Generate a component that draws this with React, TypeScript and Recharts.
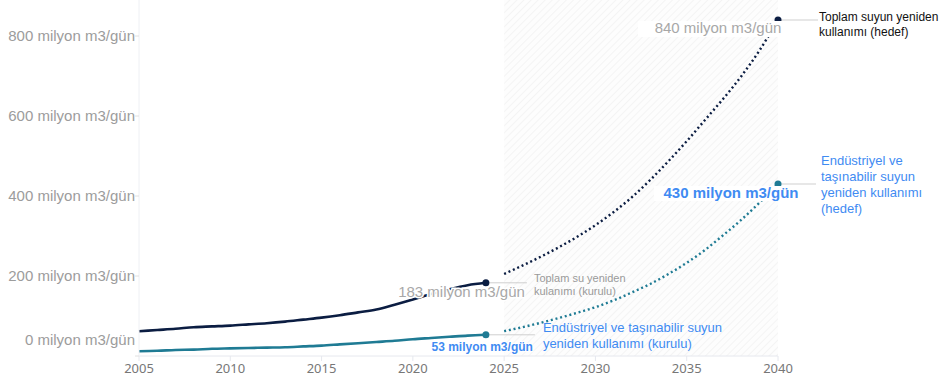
import React from "react";
import { LineChart, Line, XAxis, YAxis, ReferenceArea } from "recharts";

const histYears = [2005, 2006, 2007, 2008, 2009, 2010, 2011, 2012, 2013, 2014, 2015, 2016, 2017, 2018, 2019, 2020, 2021, 2022, 2023, 2024];
const totalInstalled = [62, 65, 68, 72, 74, 76, 79, 82, 86, 91, 96, 102, 109, 116, 128, 141, 155, 167, 177, 183];
const industrialInstalled = [12, 13, 15, 16, 18, 19, 20, 21, 22, 24, 26, 29, 32, 35, 38, 42, 45, 48, 51, 53];

const projYears = [2025, 2026, 2027, 2028, 2029, 2030, 2031, 2032, 2033, 2034, 2035, 2036, 2037, 2038, 2039, 2040];
const totalTarget = [205, 226, 248, 272, 298, 327, 360, 397, 440, 487, 537, 590, 643, 700, 765, 840];
const industrialTarget = [62, 72, 83, 95, 108, 122, 139, 159, 180, 205, 233, 265, 302, 341, 384, 430];

const xTicks = [2005, 2010, 2015, 2020, 2025, 2030, 2035, 2040];
const yTicks = [0, 200, 400, 600, 800];
const unit = "milyon m3/gün";

const data = [
  ...histYears.map((year, i) => ({ year, totalInstalled: totalInstalled[i], industrialInstalled: industrialInstalled[i] })),
  ...projYears.map((year, i) => ({ year, totalTarget: totalTarget[i], industrialTarget: industrialTarget[i] })),
];

const NAVY = "#0b1d42";
const TEAL = "#1f7b94";
const BLUE = "#3f8bf2";
const LEADER = "#cfcfcf";
const SANS = "'Liberation Sans', Arial, sans-serif";

const lastHist = histYears[histYears.length - 1];
const lastProj = projYears[projYears.length - 1];

const YTick = (props: any) => {
  const { x, y, payload } = props;
  const dy = payload.value === 0 ? -16 : 0;
  return (
    <text x={x + 2} y={y + dy} dy={5} textAnchor="end" fontSize={15} fontFamily={SANS} fill="#9c9c9c" style={{ fontSize: 15 }}>
      {`${payload.value} ${unit}`}
    </text>
  );
};

const XTick = (props: any) => {
  const { x, y, payload } = props;
  return (
    <text x={x} y={y} dy={10} textAnchor="middle" fontSize={13} fontFamily="'Noto Sans', sans-serif" fill="#777">
      {payload.value}
    </text>
  );
};

const TotalInstalledDot = (props: any) => {
  const { cx, cy, payload, index } = props;
  if (!payload || payload.year !== lastHist || cx == null || cy == null) return <g key={`ti${index}`} />;
  return (
    <g key={`ti${index}`}>
      <line x1={cx} y1={cy} x2={cx + 41} y2={cy} stroke={LEADER} strokeWidth={1} />
      <text x={cx + 39} y={cy + 14} textAnchor="end" fontSize={15} fontFamily={SANS} fill="#a8a8a8" stroke="#fff" strokeWidth={3} paintOrder="stroke">
        {`${totalInstalled[totalInstalled.length - 1]} ${unit}`}
      </text>
      <circle cx={cx} cy={cy} r={3.5} fill={NAVY} />
      <text fontSize={11} fontFamily={SANS} fill="#9a9a9a">
        <tspan x={cx + 48} y={cy - 1}>Toplam su yeniden</tspan>
        <tspan x={cx + 48} y={cy + 12}>kulanımı (kurulu)</tspan>
      </text>
    </g>
  );
};

const IndustrialInstalledDot = (props: any) => {
  const { cx, cy, payload, index } = props;
  if (!payload || payload.year !== lastHist || cx == null || cy == null) return <g key={`ii${index}`} />;
  return (
    <g key={`ii${index}`}>
      <line x1={cx} y1={cy} x2={cx + 49} y2={cy} stroke={LEADER} strokeWidth={1} />
      <text x={cx + 47} y={cy + 16} textAnchor="end" fontSize={12} fontWeight="bold" fontFamily={SANS} fill={BLUE} stroke="#fff" strokeWidth={2} paintOrder="stroke">
        {`${industrialInstalled[industrialInstalled.length - 1]} ${unit}`}
      </text>
      <circle cx={cx} cy={cy} r={3.5} fill={TEAL} />
      <text fontSize={13} fontFamily={SANS} fill={BLUE}>
        <tspan x={cx + 57} y={cy - 3}>Endüstriyel ve taşınabilir suyun</tspan>
        <tspan x={cx + 57} y={cy + 13}>yeniden kullanımı (kurulu)</tspan>
      </text>
    </g>
  );
};

const TotalTargetDot = (props: any) => {
  const { cx, cy, payload, index } = props;
  if (!payload || payload.year !== lastProj || cx == null || cy == null) return <g key={`tt${index}`} />;
  return (
    <g key={`tt${index}`}>
      <line x1={cx} y1={cy} x2={cx + 40} y2={cy} stroke={LEADER} strokeWidth={1} />
      <circle cx={cx} cy={cy} r={3.5} fill={NAVY} />
      <rect x={cx - 140} y={cy + 1} width={161} height={16} fill="#fff" />
      <text x={cx - 60} y={cy + 13} textAnchor="middle" fontSize={15} fontFamily={SANS} fill="#a8a8a8">
        {`${totalTarget[totalTarget.length - 1]} ${unit}`}
      </text>
      <text fontSize={12} fontFamily={SANS} fill="#111">
        <tspan x={cx + 41} y={cy + 0.5}>Toplam suyun yeniden</tspan>
        <tspan x={cx + 41} y={cy + 15.5}>kullanımı (hedef)</tspan>
      </text>
    </g>
  );
};

const IndustrialTargetDot = (props: any) => {
  const { cx, cy, payload, index } = props;
  if (!payload || payload.year !== lastProj || cx == null || cy == null) return <g key={`it${index}`} />;
  return (
    <g key={`it${index}`}>
      <line x1={cx} y1={cy} x2={cx + 38} y2={cy} stroke={LEADER} strokeWidth={1} />
      <circle cx={cx} cy={cy} r={3.5} fill={TEAL} />
      <rect x={cx - 124} y={cy + 2} width={145} height={15} fill="#fff" />
      <text x={cx - 47} y={cy + 14} textAnchor="middle" fontSize={15} fontWeight="bold" fontFamily={SANS} fill={BLUE}>
        {`${industrialTarget[industrialTarget.length - 1]} ${unit}`}
      </text>
      <text fontSize={13} fontFamily={SANS} fill={BLUE}>
        <tspan x={cx + 43} y={cy - 19}>Endüstriyel ve</tspan>
        <tspan x={cx + 43} y={cy - 3}>taşınabilir suyun</tspan>
        <tspan x={cx + 43} y={cy + 13}>yeniden kullanımı</tspan>
        <tspan x={cx + 43} y={cy + 29}>(hedef)</tspan>
      </text>
    </g>
  );
};

export default function App() {
  return (
    <div style={{ position: "absolute", left: 0, top: 0, width: 943, height: 391, background: "#fff" }}>
      <LineChart width={943} height={391} data={data} margin={{ top: 0, right: 165, bottom: 0, left: 0 }}>
        <defs>
          <pattern id="hatch" width="5" height="5" patternUnits="userSpaceOnUse" patternTransform="rotate(45)">
            <rect width="5" height="5" fill="#fdfdfd" />
            <line x1="0" y1="0" x2="0" y2="5" stroke="#efefef" strokeWidth="1.2" />
          </pattern>
        </defs>
        <XAxis
          dataKey="year"
          type="number"
          domain={[2005, 2040]}
          ticks={xTicks}
          height={35}
          axisLine={{ stroke: "#e6e8ee" }}
          tickLine={{ stroke: "#e6e8ee" }}
          tickSize={5}
          tick={<XTick />}
          allowDecimals={false}
        />
        <YAxis
          type="number"
          domain={[0, 890]}
          ticks={yTicks}
          width={139}
          axisLine={{ stroke: "#eef0f4" }}
          tickLine={{ stroke: "#e0e0e0" }}
          tickSize={4}
          tick={<YTick />}
        />
        <ReferenceArea x1={2025} x2={2040} y1={0} y2={890} fill="url(#hatch)" fillOpacity={1} stroke="none" />
        <Line type="monotone" dataKey="totalInstalled" stroke={NAVY} strokeWidth={2.6} dot={TotalInstalledDot} activeDot={false} isAnimationActive={false} connectNulls={false} />
        <Line type="monotone" dataKey="industrialInstalled" stroke={TEAL} strokeWidth={2.6} dot={IndustrialInstalledDot} activeDot={false} isAnimationActive={false} connectNulls={false} />
        <Line type="monotone" dataKey="totalTarget" stroke={NAVY} strokeWidth={2.4} strokeDasharray="2 2.8" dot={TotalTargetDot} activeDot={false} isAnimationActive={false} connectNulls={false} />
        <Line type="monotone" dataKey="industrialTarget" stroke={TEAL} strokeWidth={2.4} strokeDasharray="2 2.8" dot={IndustrialTargetDot} activeDot={false} isAnimationActive={false} connectNulls={false} />
      </LineChart>
    </div>
  );
}
